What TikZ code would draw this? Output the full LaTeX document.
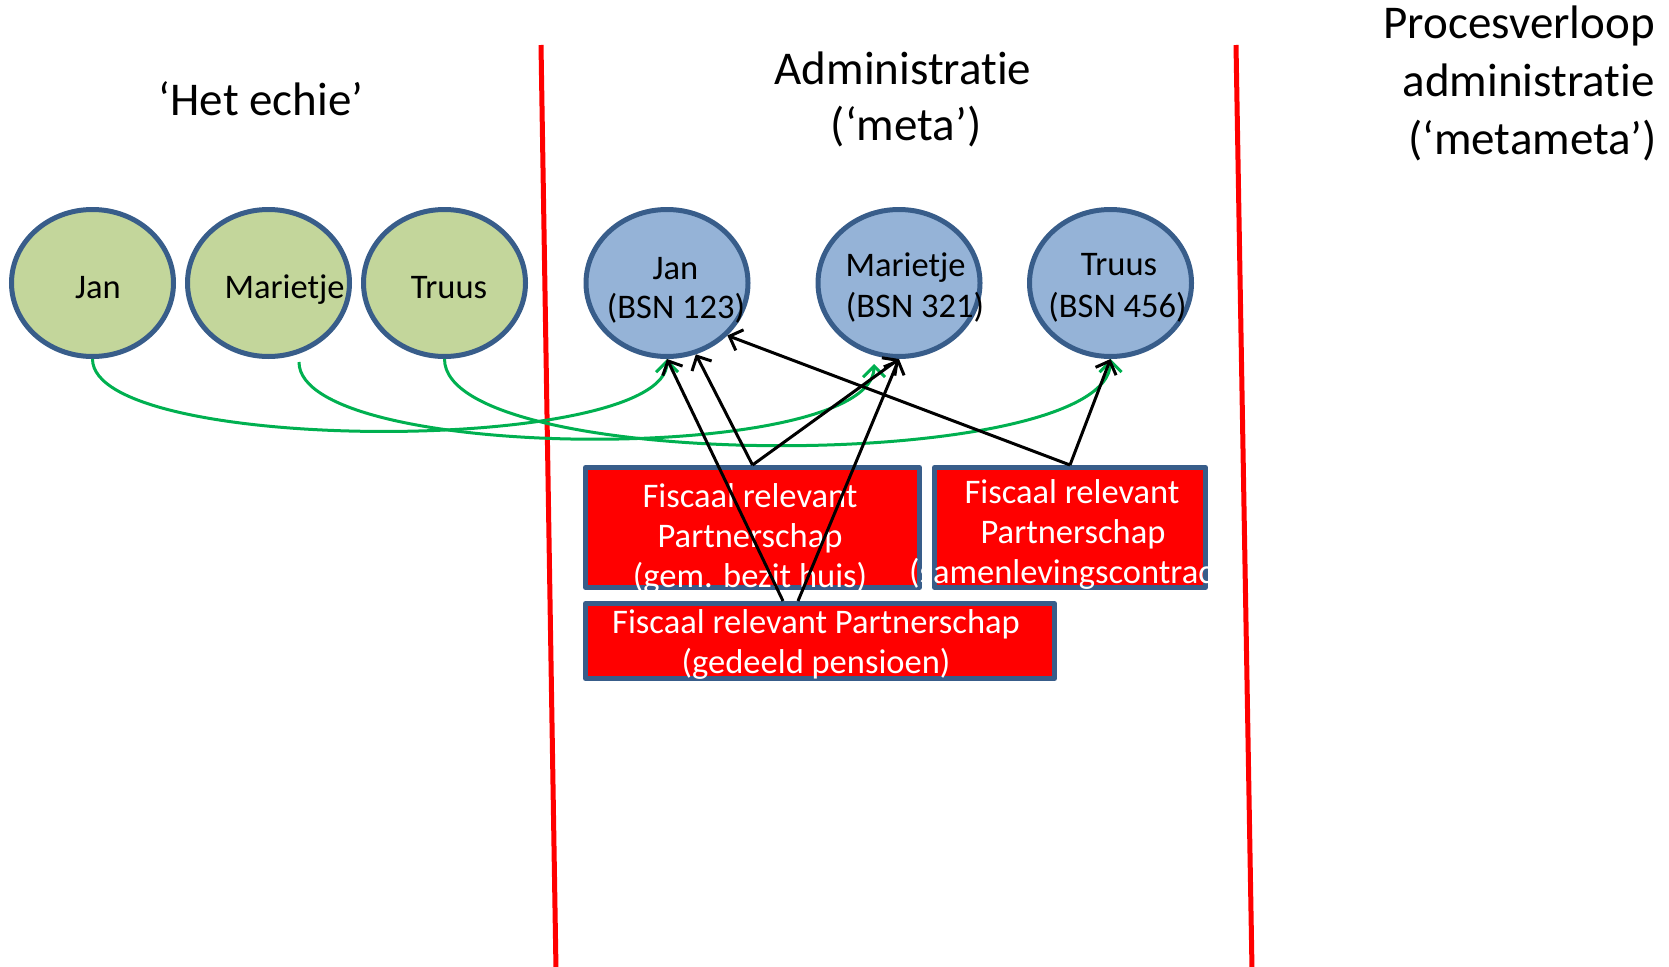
\documentclass[tikz,border=0pt]{standalone}
\usepackage{fontspec}
\setmainfont{Carlito}[Ligatures=NoCommon, RawFeature={-clig;-dlig}]
\usetikzlibrary{arrows.meta,shapes.geometric}
\definecolor{rimblue}{HTML}{385D8A}
\definecolor{realfill}{HTML}{C3D69B}
\definecolor{metafill}{HTML}{95B3D7}
\definecolor{linkgreen}{HTML}{00B050}
\begin{document}
\begin{tikzpicture}[x=1pt,y=-1pt,
  person/.style={ellipse, draw=rimblue, line width=5pt, minimum width=162pt,
    minimum height=147pt, inner sep=0pt},
  realperson/.style={person, fill=realfill},
  metaperson/.style={person, fill=metafill},
  partnerbox/.style={rectangle, draw=rimblue, fill=red, line width=5pt,
    line join=round, inner sep=0pt},
  bodytext/.style={anchor=base, inner sep=0pt, font=\fontsize{34.5}{41}\selectfont},
  boxtext/.style={bodytext, text=white},
  titletext/.style={anchor=base, inner sep=0pt, font=\fontsize{47}{56}\selectfont},
  divider/.style={draw=red, line width=5pt},
  link/.style={draw=black, line width=3pt, -{Straight Barb[length=11pt,width=22pt]}},
  greenlink/.style={draw=linkgreen, line width=3pt, -{Straight Barb[length=11pt,width=22pt]}}
]
\useasboundingbox (0,0) rectangle (1669,966);

% column dividers
\coordinate (divAtop) at (541,45);
\coordinate (divAbot) at (556,970);
\coordinate (divBtop) at (1236,45);
\coordinate (divBbot) at (1252,970);
\draw[divider] (divAtop) -- (divAbot);
\draw[divider] (divBtop) -- (divBbot);

% column headings
\node[titletext] (hReal) at (261,115) {‘Het echie’};
\node[titletext] (hMetaA) at (903,84) {Administratie};
\node[titletext] (hMetaB) at (906,140) {(‘meta’)};
\node[titletext, anchor=base east] (hMMA) at (1655,38) {Procesverloop};
\node[titletext, anchor=base east] (hMMB) at (1655,96) {administratie};
\node[titletext, anchor=base east] (hMMC) at (1657,154) {(‘metameta’)};

% real persons
\node[realperson] (janG) at (92.5,283) {};
\node[realperson] (marG) at (268.5,283) {};
\node[realperson] (truG) at (444.5,283) {};
\node[bodytext] (janGt) at (98,298) {Jan};
\node[bodytext] (marGt) at (284.5,298) {Marietje};
\node[bodytext] (truGt) at (449,298) {Truus};

% registered persons
\node[metaperson] (janB) at (667,283) {};
\node[metaperson] (marB) at (899,283) {};
\node[metaperson] (truB) at (1110.5,283) {};
\node[bodytext] (janBa) at (675.5,279) {Jan};
\node[bodytext] (janBb) at (676,318) {(BSN 123)};
\node[bodytext] (marBa) at (905.5,276) {Marietje};
\node[bodytext] (marBb) at (915,317) {(BSN 321)};
\node[bodytext] (truBa) at (1119,275) {Truus};
\node[bodytext] (truBb) at (1117.5,317) {(BSN 456)};

% partnerships
\node[partnerbox, minimum width=334pt, minimum height=120pt] (boxA) at (752.5,527.5) {};
\node[boxtext] (boxAa) at (750,507) {Fiscaal relevant};
\node[boxtext] (boxAb) at (750,547) {Partnerschap};
\node[boxtext] (boxAc) at (750,587) {(gem. bezit huis)};

\node[partnerbox, minimum width=271pt, minimum height=120pt] (boxB) at (1070,527.5) {};
\node[boxtext] (boxBa) at (1072,503) {Fiscaal relevant};
\node[boxtext] (boxBb) at (1073,543) {Partnerschap};
\node[boxtext] (boxBc) at (1072,583) {(samenlevingscontract)};

\node[partnerbox, minimum width=469pt, minimum height=75pt] (boxC) at (820,641) {};
\node[boxtext] (boxCa) at (816,633) {Fiscaal relevant Partnerschap};
\node[boxtext] (boxCb) at (816,673) {(gedeeld pensioen)};

% identity links between reality and administration
\coordinate (marGfoot) at (299,362);
\coordinate (marBfoot) at (874,364);
\draw[greenlink] (janG.south) .. controls +(0,96) and +(0,96) .. (janB.south);
\draw[greenlink] (marGfoot) .. controls +(0,101) and +(0,101) .. (marBfoot);
\draw[greenlink] (truG.south) .. controls +(0,115) and +(0,115) .. (truB.south);

% partnership memberships
\draw[link] (boxA.north) -- (janB.-68);
\draw[link] (boxA.north) -- (marB.south);
\draw[link] (boxB.north) -- (janB.-41);
\draw[link] (boxB.north) -- (truB.south);
\draw[link] ([xshift=-37pt]boxC.north) -- (janB.south);
\draw[link] ([xshift=-22pt]boxC.north) -- (marB.south);
\end{tikzpicture}
\end{document}
